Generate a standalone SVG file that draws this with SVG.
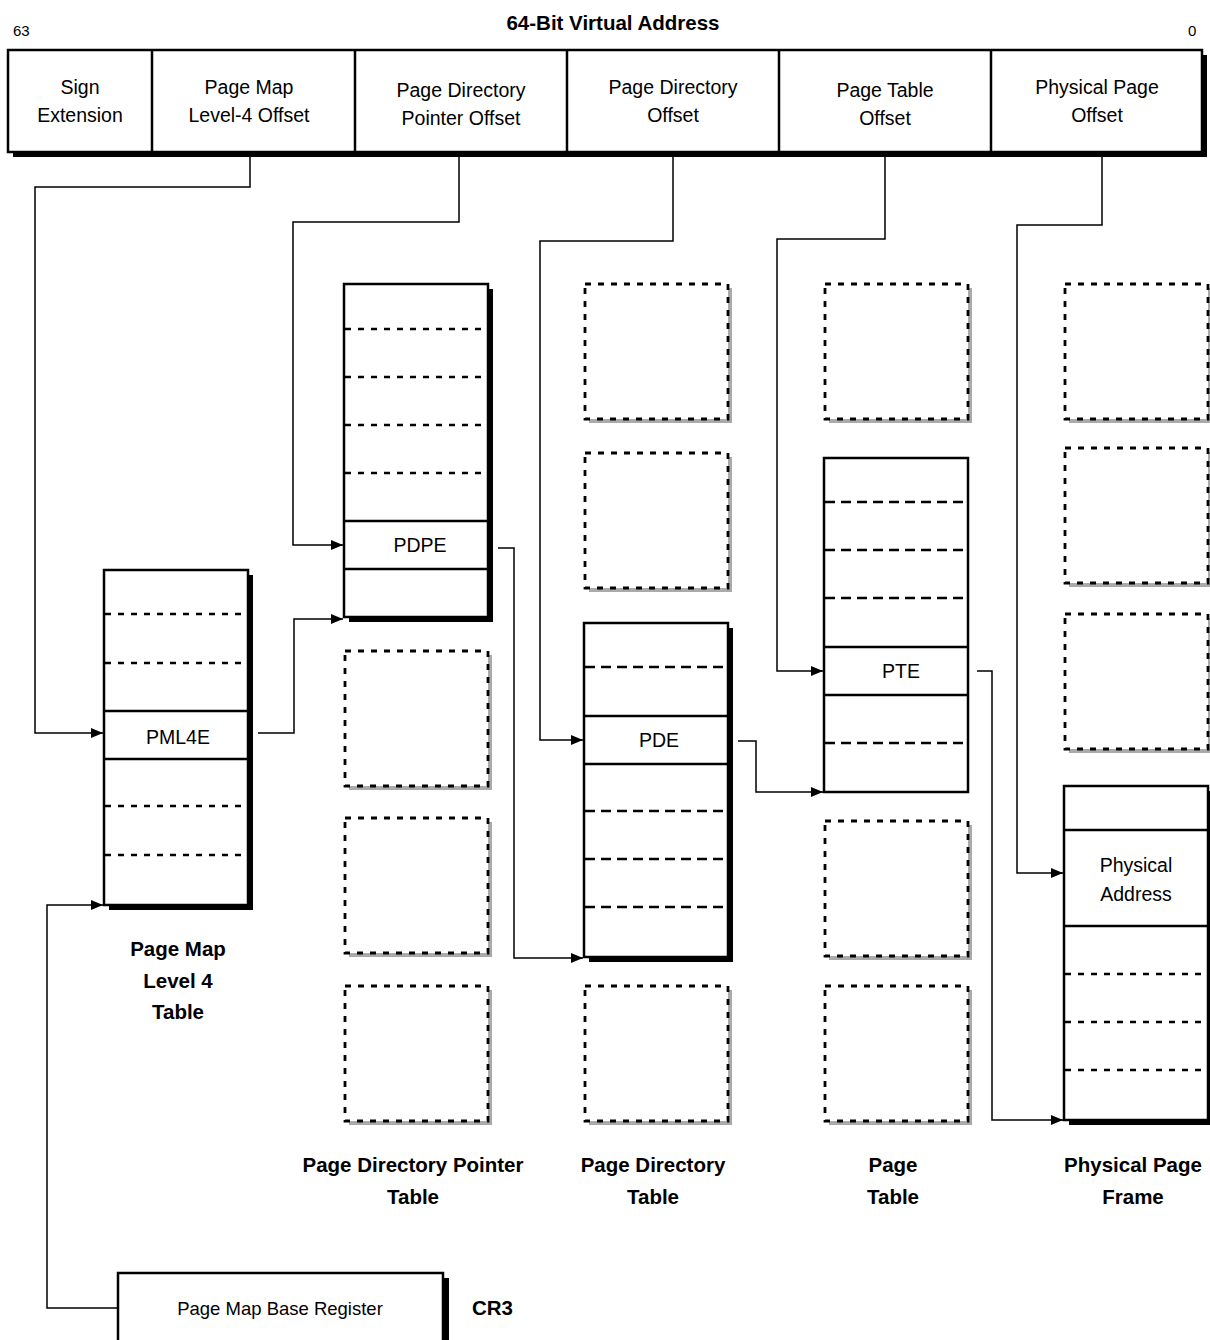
<svg xmlns="http://www.w3.org/2000/svg" width="1210" height="1340" viewBox="0 0 1210 1340">
<defs>
<marker id="arr" markerUnits="userSpaceOnUse" markerWidth="13" markerHeight="11" refX="12" refY="5" orient="auto">
<path d="M0,0 L12,5 L0,10 z" fill="#000"/>
</marker>
</defs>
<style>
text{font-family:"Liberation Sans Narrow","Liberation Sans",Arial,sans-serif;fill:#000}
.f{font-size:19.5px;text-anchor:middle}
.b{font-size:20.5px;font-weight:bold;text-anchor:middle}
.sh{fill:#000}
.box{fill:#fff;stroke:#000;stroke-width:2.5}
.sep{stroke:#000;stroke-width:2.5}
.dot{stroke:#000;stroke-width:2.5;stroke-dasharray:6 7}
.dash{stroke:#000;stroke-width:2.5;stroke-dasharray:10 6}
.gsh{fill:#aaa}
.dbox{fill:#fff;stroke:#000;stroke-width:2.8;stroke-dasharray:6 7}
.c{fill:none;stroke:#000;stroke-width:1.5;marker-end:url(#arr)}
</style>
<rect width="1210" height="1340" fill="#fff"/>

<g id="vaddr">
<text x="613" y="30" class="b">64-Bit Virtual Address</text>
<text x="13" y="36" style="font-size:15px">63</text>
<text x="1188" y="36" style="font-size:15px">0</text>
<rect x="13" y="55" width="1194" height="102" class="sh"/>
<rect x="8" y="50" width="1194" height="102" class="box"/>
<line x1="152" y1="50" x2="152" y2="152" class="sep"/>
<line x1="355" y1="50" x2="355" y2="152" class="sep"/>
<line x1="567" y1="50" x2="567" y2="152" class="sep"/>
<line x1="779" y1="50" x2="779" y2="152" class="sep"/>
<line x1="991" y1="50" x2="991" y2="152" class="sep"/>
<text x="80" y="94" class="f">Sign</text>
<text x="80" y="122" class="f">Extension</text>
<text x="249" y="94" class="f">Page Map</text>
<text x="249" y="122" class="f">Level-4 Offset</text>
<text x="461" y="97" class="f">Page Directory</text>
<text x="461" y="125" class="f">Pointer Offset</text>
<text x="673" y="94" class="f">Page Directory</text>
<text x="673" y="122" class="f">Offset</text>
<text x="885" y="97" class="f">Page Table</text>
<text x="885" y="125" class="f">Offset</text>
<text x="1097" y="94" class="f">Physical Page</text>
<text x="1097" y="122" class="f">Offset</text>
</g>

<g id="pml4">
<rect x="109" y="575" width="144" height="335" class="sh"/>
<rect x="104" y="570" width="144" height="335" class="box"/>
<line x1="105" y1="614" x2="247" y2="614" class="dot"/>
<line x1="105" y1="663" x2="247" y2="663" class="dot"/>
<line x1="104" y1="711" x2="248" y2="711" class="sep"/>
<line x1="104" y1="759" x2="248" y2="759" class="sep"/>
<line x1="105" y1="806" x2="247" y2="806" class="dot"/>
<line x1="105" y1="855" x2="247" y2="855" class="dot"/>
<text x="178" y="744" class="f">PML4E</text>
<text x="178" y="956" class="b">Page Map</text>
<text x="178" y="988" class="b">Level 4</text>
<text x="178" y="1019" class="b">Table</text>
</g>

<g id="pdpt">
<rect x="349" y="289" width="144" height="333" class="sh"/>
<rect x="344" y="284" width="144" height="333" class="box"/>
<line x1="345" y1="329" x2="487" y2="329" class="dot"/>
<line x1="345" y1="377" x2="487" y2="377" class="dot"/>
<line x1="345" y1="425" x2="487" y2="425" class="dot"/>
<line x1="345" y1="473" x2="487" y2="473" class="dot"/>
<line x1="344" y1="521" x2="488" y2="521" class="sep"/>
<line x1="344" y1="569" x2="488" y2="569" class="sep"/>
<text x="420" y="552" class="f">PDPE</text>
<text x="413" y="1172" class="b">Page Directory Pointer</text>
<text x="413" y="1204" class="b">Table</text>
</g>

<g id="pdt">
<rect x="589" y="628" width="144" height="334" class="sh"/>
<rect x="584" y="623" width="144" height="334" class="box"/>
<line x1="585" y1="667" x2="727" y2="667" class="dash"/>
<line x1="584" y1="716" x2="728" y2="716" class="sep"/>
<line x1="584" y1="764" x2="728" y2="764" class="sep"/>
<line x1="585" y1="811" x2="727" y2="811" class="dash"/>
<line x1="585" y1="859" x2="727" y2="859" class="dash"/>
<line x1="585" y1="907" x2="727" y2="907" class="dash"/>
<text x="659" y="747" class="f">PDE</text>
<text x="653" y="1172" class="b">Page Directory</text>
<text x="653" y="1204" class="b">Table</text>
</g>

<g id="pt">
<rect x="824" y="458" width="144" height="334" class="box"/>
<line x1="825" y1="502" x2="967" y2="502" class="dash"/>
<line x1="825" y1="550" x2="967" y2="550" class="dash"/>
<line x1="825" y1="598" x2="967" y2="598" class="dash"/>
<line x1="824" y1="647" x2="968" y2="647" class="sep"/>
<line x1="824" y1="695" x2="968" y2="695" class="sep"/>
<line x1="825" y1="743" x2="967" y2="743" class="dash"/>
<text x="901" y="678" class="f">PTE</text>
<text x="893" y="1172" class="b">Page</text>
<text x="893" y="1204" class="b">Table</text>
</g>

<g id="ppf">
<rect x="1069" y="791" width="144" height="334" class="sh"/>
<rect x="1064" y="786" width="144" height="334" class="box"/>
<line x1="1064" y1="830" x2="1208" y2="830" class="sep"/>
<line x1="1064" y1="926" x2="1208" y2="926" class="sep"/>
<line x1="1065" y1="974" x2="1207" y2="974" class="dot"/>
<line x1="1065" y1="1022" x2="1207" y2="1022" class="dot"/>
<line x1="1065" y1="1070" x2="1207" y2="1070" class="dot"/>
<text x="1136" y="872" class="f">Physical</text>
<text x="1136" y="901" class="f">Address</text>
<text x="1133" y="1172" class="b">Physical Page</text>
<text x="1133" y="1204" class="b">Frame</text>
</g>

<g id="unused-pages">
<rect x="349" y="655" width="143" height="135" class="gsh"/><rect x="345" y="651" width="143" height="135" class="dbox"/>
<rect x="349" y="822" width="143" height="135" class="gsh"/><rect x="345" y="818" width="143" height="135" class="dbox"/>
<rect x="349" y="990" width="143" height="135" class="gsh"/><rect x="345" y="986" width="143" height="135" class="dbox"/>
<rect x="589" y="288" width="143" height="135" class="gsh"/><rect x="585" y="284" width="143" height="135" class="dbox"/>
<rect x="589" y="457" width="143" height="135" class="gsh"/><rect x="585" y="453" width="143" height="135" class="dbox"/>
<rect x="589" y="990" width="143" height="135" class="gsh"/><rect x="585" y="986" width="143" height="135" class="dbox"/>
<rect x="829" y="288" width="143" height="135" class="gsh"/><rect x="825" y="284" width="143" height="135" class="dbox"/>
<rect x="829" y="825" width="143" height="135" class="gsh"/><rect x="825" y="821" width="143" height="135" class="dbox"/>
<rect x="829" y="990" width="143" height="135" class="gsh"/><rect x="825" y="986" width="143" height="135" class="dbox"/>
<rect x="1069" y="288" width="143" height="135" class="gsh"/><rect x="1065" y="284" width="143" height="135" class="dbox"/>
<rect x="1069" y="452" width="143" height="135" class="gsh"/><rect x="1065" y="448" width="143" height="135" class="dbox"/>
<rect x="1069" y="618" width="143" height="135" class="gsh"/><rect x="1065" y="614" width="143" height="135" class="dbox"/>
</g>

<g id="cr3">
<rect x="124" y="1278" width="325" height="80" class="sh"/>
<rect x="118" y="1273" width="325" height="80" class="box"/>
<text x="280" y="1315" style="font-size:18.5px;text-anchor:middle">Page Map Base Register</text>
<text x="472" y="1315" style="font-size:20.5px;font-weight:bold">CR3</text>
</g>

<g id="connectors">
<path d="M250,153 V187 H35 V733 H103" class="c"/>
<path d="M459,153 V222 H293 V545 H343" class="c"/>
<path d="M673,153 V241 H540 V740 H583" class="c"/>
<path d="M885,153 V239 H777 V671 H823" class="c"/>
<path d="M1102,153 V225 H1017 V873 H1063" class="c"/>
<path d="M258,733 H294 V619 H343" class="c"/>
<path d="M498,548 H514 V958 H583" class="c"/>
<path d="M738,741 H756 V792 H823" class="c"/>
<path d="M977,671 H992 V1120 H1063" class="c"/>
<path d="M118,1308 H47 V905 H103" class="c"/>
</g>
</svg>
